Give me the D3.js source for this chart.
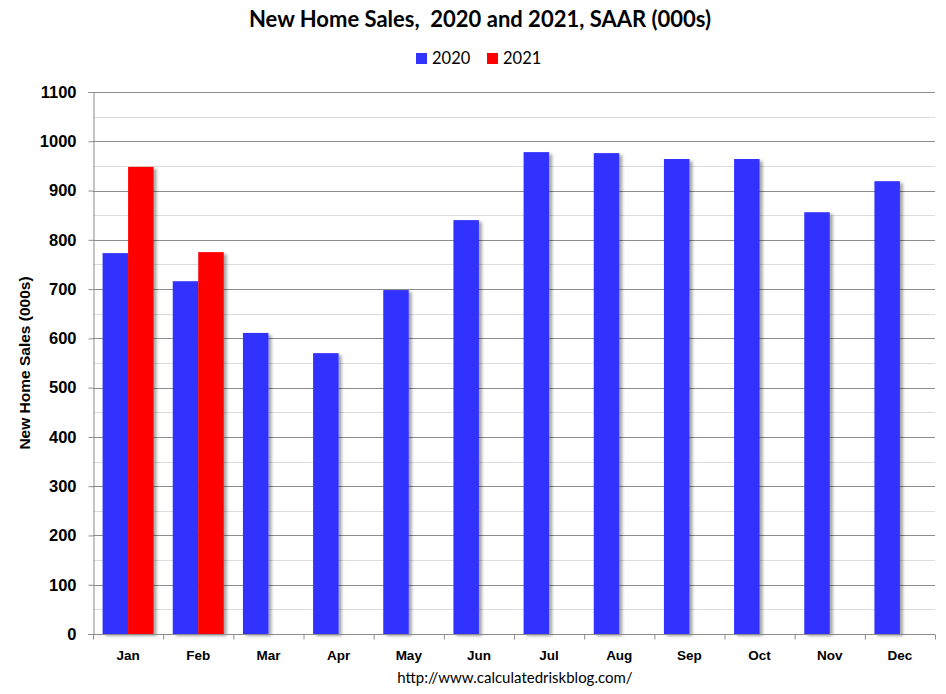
<!DOCTYPE html>
<html>
<head>
<meta charset="utf-8">
<script src="https://cdn.jsdelivr.net/npm/d3@7"></script>
<style>
  html, body { margin: 0; padding: 0; background: #fff; }
  svg { display: block; }
</style>
</head>
<body>
<svg id="chart" width="946" height="694"></svg>
<script>
const months = ["Jan","Feb","Mar","Apr","May","Jun","Jul","Aug","Sep","Oct","Nov","Dec"];
const seriesNames = ["2020","2021"];
const sales2020 = [773, 716, 611, 570, 698, 840, 978, 976, 964, 964, 856, 919];
const sales2021 = [948, 775, null, null, null, null, null, null, null, null, null, null];
const seriesColors = ["#3333FF", "#FF0000"];
const yTicks = [0,100,200,300,400,500,600,700,800,900,1000,1100];
const yMinorTicks = [50,150,250,350,450,550,650,750,850,950,1050];

(function () {
const svg = d3.select("#chart");
const mLeft = 93, mRight = 935, mTop = 92, mBottom = 634;

const defs = svg.append("defs");
const f = defs.append("filter").attr("id","shadow").attr("x","-20%").attr("y","-5%").attr("width","160%").attr("height","115%");
f.append("feDropShadow").attr("dx",3).attr("dy",2).attr("stdDeviation",1.8)
  .attr("flood-color","#000").attr("flood-opacity",0.35);

const x = d3.scaleBand().domain(months).range([mLeft, mRight]).paddingInner(0).paddingOuter(0);
const x1 = d3.scaleBand().domain(seriesNames).range([0, x.bandwidth()]).paddingInner(0).paddingOuter(0.376);
const y = d3.scaleLinear().domain([0, 1100]).range([mBottom, mTop]);
const xb = d3.scaleLinear().domain([0, 12]).range([mLeft, mRight]);

// minor gridlines
svg.append("g").selectAll("line").data(yMinorTicks).join("line")
  .attr("x1", mLeft).attr("x2", mRight)
  .attr("y1", d => Math.round(y(d)) + 0.5).attr("y2", d => Math.round(y(d)) + 0.5)
  .attr("stroke", "#dcdcdc").attr("stroke-width", 1);
// major gridlines
svg.append("g").selectAll("line").data(yTicks.slice(1)).join("line")
  .attr("x1", mLeft).attr("x2", mRight)
  .attr("y1", d => Math.round(y(d)) + 0.5).attr("y2", d => Math.round(y(d)) + 0.5)
  .attr("stroke", "#8c8c8c").attr("stroke-width", 1);

// bars
const data = [];
months.forEach((m, i) => {
  [sales2020[i], sales2021[i]].forEach((v, s) => {
    if (v != null) data.push({month: m, series: seriesNames[s], value: v, color: seriesColors[s]});
  });
});
svg.append("g").attr("filter", "url(#shadow)").selectAll("rect").data(data).join("rect")
  .attr("x", d => x(d.month) + x1(d.series))
  .attr("width", x1.bandwidth())
  .attr("y", d => y(d.value))
  .attr("height", d => y(0) - y(d.value))
  .attr("fill", d => d.color);

// y axis
const yAxis = svg.append("g").attr("transform", `translate(${mLeft + 0.5},0)`)
  .call(d3.axisLeft(y).tickValues(yTicks).tickSize(5).tickPadding(12).tickFormat(d3.format("d")));
yAxis.select(".domain").attr("stroke", "#8c8c8c");
yAxis.selectAll(".tick line").attr("stroke", "#8c8c8c");
yAxis.selectAll("text").attr("font-family", "'Liberation Sans', Arial, sans-serif")
  .attr("font-weight", "bold").attr("font-size", 16.5).attr("fill", "#000");

// x axis ticks at band boundaries
const xAxisT = svg.append("g").attr("transform", `translate(0,${mBottom + 0.5})`)
  .call(d3.axisBottom(xb).tickValues(d3.range(0, 13)).tickSize(5).tickFormat(""));
xAxisT.select(".domain").attr("stroke", "#8c8c8c").attr("d", `M${mLeft - 5},0H${mRight}`);
xAxisT.selectAll(".tick line").attr("stroke", "#8c8c8c");

// month labels
const xAxisL = svg.append("g").attr("transform", `translate(0,${mBottom})`)
  .call(d3.axisBottom(x).tickSize(0).tickPadding(16));
xAxisL.select(".domain").remove();
xAxisL.selectAll("text").attr("font-family", "'Liberation Sans', Arial, sans-serif")
  .attr("font-weight", "bold").attr("font-size", 13.5).attr("fill", "#000");

// title
svg.append("text").attr("x", 480).attr("y", 27).attr("text-anchor", "middle")
  .attr("font-family", "Lato, 'Open Sans', sans-serif").attr("font-weight", "bold")
  .attr("font-size", 22).attr("fill", "#000")
  .style("white-space", "pre")
  .text("New Home Sales,  2020 and 2021, SAAR (000s)");

// legend
const legendX = [416, 487];
const lg = svg.append("g");
seriesNames.forEach((n, i) => {
  lg.append("rect").attr("x", legendX[i]).attr("y", 53).attr("width", 11).attr("height", 11).attr("fill", seriesColors[i]);
  lg.append("text").attr("x", legendX[i] + 16).attr("y", 64)
    .attr("font-family", "Lato, 'Open Sans', sans-serif").attr("font-size", 16.5).attr("fill", "#000").text(n);
});

// y axis title
svg.append("text").attr("transform", "translate(30,363) rotate(-90)").attr("text-anchor", "middle")
  .attr("font-family", "'Liberation Sans', Arial, sans-serif").attr("font-weight", "bold")
  .attr("font-size", 15.5).attr("fill", "#000").text("New Home Sales (000s)");

// source
svg.append("text").attr("x", 515).attr("y", 683).attr("text-anchor", "middle")
  .attr("font-family", "Lato, 'Open Sans', sans-serif").attr("font-size", 15).attr("fill", "#000")
  .text("http://www.calculatedriskblog.com/");
})();
</script>
</body>
</html>
